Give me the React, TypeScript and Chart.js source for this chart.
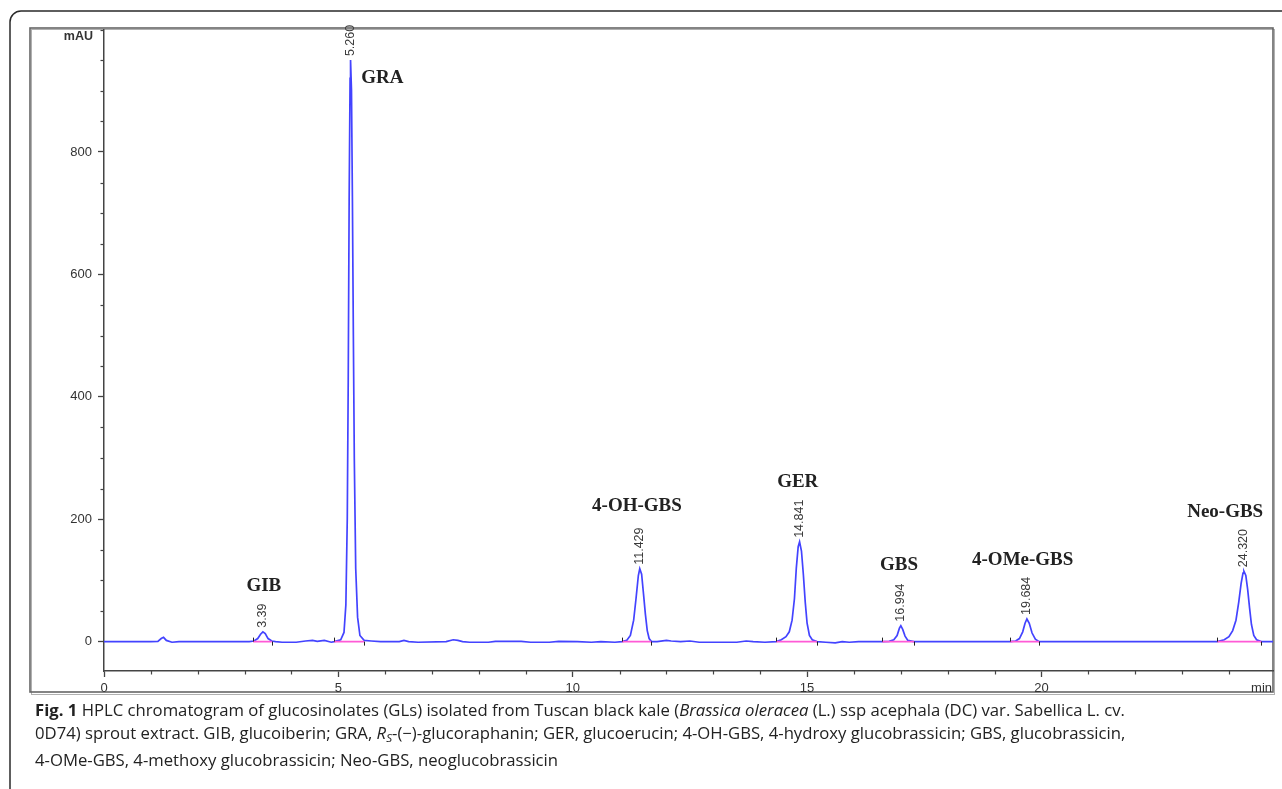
import React, { useEffect, useLayoutEffect, useRef } from 'react';
import { Chart, registerables } from 'chart.js';

Chart.register(...registerables);

// ---------- data ----------
const traceTime = [
  0.0, 0.5, 1.0, 1.15, 1.22, 1.27, 1.33, 1.45, 1.6, 2.2, 2.8, 3.1, 3.2, 3.28, 3.34, 3.39, 3.44, 3.5, 3.58, 3.66,
  3.8, 4.1, 4.3, 4.45, 4.55, 4.7, 4.85, 4.91, 5.05, 5.12, 5.16, 5.19, 5.21, 5.23, 5.25, 5.26, 5.28, 5.3, 5.32,
  5.34, 5.37, 5.41, 5.46, 5.55, 5.7, 5.9, 6.3, 6.4, 6.5, 6.7, 7.3, 7.45, 7.55, 7.65, 7.8, 8.2, 8.35, 8.9, 9.1,
  9.5, 9.7, 10.1, 10.4, 10.6, 10.9, 11.05, 11.15, 11.23, 11.3, 11.35, 11.4, 11.43, 11.47, 11.51, 11.55, 11.59,
  11.63, 11.68, 11.8, 12.0, 12.1, 12.3, 12.5, 12.7, 13.0, 13.5, 13.7, 13.85, 14.1, 14.34, 14.45, 14.55, 14.62,
  14.68, 14.73, 14.77, 14.81, 14.84, 14.88, 14.92, 14.96, 15.0, 15.05, 15.11, 15.21, 15.4, 15.6, 15.75, 15.9,
  16.1, 16.6, 16.75, 16.85, 16.92, 16.97, 17.0, 17.04, 17.09, 17.15, 17.28, 18.0, 19.0, 19.33, 19.45, 19.53,
  19.6, 19.65, 19.69, 19.74, 19.8, 19.87, 19.95, 21.0, 22.0, 23.0, 23.75, 23.9, 24.0, 24.08, 24.15, 24.21,
  24.26, 24.3, 24.32, 24.36, 24.4, 24.44, 24.48, 24.53, 24.59, 24.69, 24.94,
];
const traceMAU = [
  0, 0, 0, 0.5, 5, 7, 2, -1, 0, 0, 0, 0, 1, 5, 12, 16, 13, 5, 1, 0,
  -1, -1, 1, 2, 0.5, 2, -1, 0, 3, 15, 60, 200, 420, 720, 920, 950, 900, 720, 500,
  300, 120, 40, 10, 2, 1, 0, 0, 2, 0, -1, 0, 3, 2, 0, -1, -1, 0.5, 0.5, -1,
  -1, 0.5, 0, -1, 0, -1, 0, 2, 10, 35, 70, 108, 119, 110, 78, 45, 18,
  5, 0, 0, 2, 1, 0, 1, -1, -1, -1, 1, 0, -1, 0, 3, 8, 16,
  35, 70, 120, 155, 163, 148, 110, 65, 30, 10, 3, 0, -1, -2, 0, -1,
  0, 0, 0.5, 3, 10, 22, 26, 20, 9, 2, 0, 0, 0, 0, 1, 5,
  16, 30, 37, 30, 14, 4, 0, 0, 0, 0, 0, 3, 8, 18, 35, 65,
  95, 112, 115, 108, 85, 55, 28, 10, 3, 0, 0,
];

const peakNames = ['GIB', 'GRA', '4-OH-GBS', 'GER', 'GBS', '4-OMe-GBS', 'Neo-GBS'];
const peakRT = [3.39, 5.26, 11.429, 14.841, 16.994, 19.684, 24.32];
const peakRTLabels = ['3.39', '5.260', '11.429', '14.841', '16.994', '19.684', '24.320'];
const peakHeights = [16, 950, 119, 163, 26, 37, 115];
const nameTime = [3.41, 5.94, 11.37, 14.8, 16.96, 19.6, 23.92];
const nameMAU = [91, 921, 221, 261, 125, 133, 212];
const baselineStart = [3.18, 4.91, 11.05, 14.34, 16.6, 19.33, 23.75];
const baselineEnd = [3.58, 5.55, 11.67, 15.21, 17.28, 19.95, 24.69];

const xTickLabels = [0, 5, 10, 15, 20];
const yTickLabels = [0, 200, 400, 600, 800];
const xMin = 0;
const xMax = 24.94;
const yMin = -48;
const yMax = 1000;
const xUnit = 'min';
const yUnit = 'mAU';

const captionLines = [
  [
    { t: 'Fig. 1', b: true },
    { t: ' HPLC chromatogram of glucosinolates (GLs) isolated from Tuscan black kale (' },
    { t: 'Brassica oleracea', i: true },
    { t: ' (L.) ssp acephala (DC) var. Sabellica L. cv.' },
  ],
  [
    { t: '0D74) sprout extract. GIB, glucoiberin; GRA, ' },
    { t: 'R', i: true },
    { t: 'S', i: true, sub: true },
    { t: '-(\u2212)-glucoraphanin; GER, glucoerucin; 4-OH-GBS, 4-hydroxy glucobrassicin; GBS, glucobrassicin,' },
  ],
  [{ t: '4-OMe-GBS, 4-methoxy glucobrassicin; Neo-GBS, neoglucobrassicin' }],
];

const TRACE = '#4343ff';
const PINK = '#ff5ad6';
const AXIS = '#444';
const TICK_FONT = '"Liberation Sans", Arial, sans-serif';
const LABEL_COLOR = '#333';

const decorPlugin = {
  id: 'decor',
  beforeDraw(chart: any) {
    const c = chart.ctx;
    c.save();
    c.fillStyle = '#fff';
    c.fillRect(0, 0, chart.width, chart.height);
    // outer rounded figure box
    c.strokeStyle = '#2a2a2a';
    c.lineWidth = 1.5;
    c.beginPath();
    c.moveTo(10, chart.height + 5);
    c.lineTo(10, 22);
    c.arcTo(10, 11, 21, 11, 11);
    c.lineTo(chart.width + 5, 11);
    c.stroke();
    // inner chart frame
    c.strokeStyle = '#b0b0b0';
    c.lineWidth = 1;
    c.strokeRect(31.5, 29.5, 1243, 665);
    c.strokeStyle = '#666';
    c.lineWidth = 1.6;
    c.strokeRect(30, 28, 1243, 664);
    c.restore();
  },
  afterDraw(chart: any) {
    const c = chart.ctx;
    const xs = chart.scales.x;
    const ys = chart.scales.y;
    c.save();
    // minor ticks
    c.strokeStyle = AXIS;
    c.lineWidth = 1.2;
    xs.ticks.forEach((t: any) => {
      if (xTickLabels.includes(t.value)) return;
      const px = Math.round(xs.getPixelForValue(t.value)) + 0.5;
      c.beginPath();
      c.moveTo(px, ys.bottom);
      c.lineTo(px, ys.bottom + 3.5);
      c.stroke();
    });
    ys.ticks.forEach((t: any) => {
      if (yTickLabels.includes(t.value)) return;
      const py = Math.round(ys.getPixelForValue(t.value)) + 0.5;
      c.beginPath();
      c.moveTo(xs.left, py);
      c.lineTo(xs.left - 3.5, py);
      c.stroke();
    });
    // integration markers
    c.strokeStyle = '#222';
    c.lineWidth = 1;
    const y0 = ys.getPixelForValue(0);
    baselineStart.forEach((s, i) => {
      const a = Math.round(xs.getPixelForValue(s)) + 0.5;
      const b = Math.round(xs.getPixelForValue(baselineEnd[i])) + 0.5;
      c.beginPath();
      c.moveTo(a, y0 - 4);
      c.lineTo(a, y0);
      c.moveTo(b, y0);
      c.lineTo(b, y0 + 4);
      c.stroke();
    });
    // retention time labels (rotated)
    c.fillStyle = '#3a3a3a';
    c.font = `12.5px ${TICK_FONT}`;
    c.textAlign = 'left';
    c.textBaseline = 'middle';
    peakRT.forEach((rt, i) => {
      const px = xs.getPixelForValue(rt);
      const py = ys.getPixelForValue(peakHeights[i]) - 4;
      c.save();
      c.translate(px, py);
      c.rotate(-Math.PI / 2);
      c.fillText(peakRTLabels[i], 0, 0);
      c.restore();
    });
    // compound names
    c.fillStyle = '#222';
    c.font = 'bold 19px "Liberation Serif", "Times New Roman", serif';
    c.textAlign = 'center';
    c.textBaseline = 'middle';
    peakNames.forEach((n, i) => {
      c.fillText(n, xs.getPixelForValue(nameTime[i]), ys.getPixelForValue(nameMAU[i]));
    });
    // units
    c.fillStyle = LABEL_COLOR;
    c.font = `bold 12.5px ${TICK_FONT}`;
    c.textAlign = 'right';
    c.fillText(yUnit, xs.left - 11, ys.top + 7);
    c.font = `13px ${TICK_FONT}`;
    c.textBaseline = 'middle';
    c.fillText(xUnit, xs.right - 1, ys.bottom + 17);
    c.restore();
  },
};

export default function App() {
  const canvasRef = useRef<HTMLCanvasElement>(null);
  const capRef = useRef<HTMLDivElement>(null);

  useLayoutEffect(() => {
    const el = capRef.current;
    if (!el) return;
    const first = el.children[0] as HTMLElement;
    const w = first.getBoundingClientRect().width;
    if (w > 0) {
      const s = 1090 / w;
      el.style.transform = `scaleX(${s})`;
    }
  }, []);

  useEffect(() => {
    const canvas = canvasRef.current!;
    const datasets: any[] = baselineStart.map((s, i) => ({
      data: [
        { x: s, y: 0 },
        { x: baselineEnd[i], y: 0 },
      ],
      borderColor: PINK,
      borderWidth: 1.6,
      pointRadius: 0,
    }));
    datasets.push({
      data: traceTime.map((t, i) => ({ x: t, y: traceMAU[i] })),
      borderColor: TRACE,
      borderWidth: 1.7,
      pointRadius: 0,
      tension: 0,
    });
    const majorColor = (labels: number[]) => (ctx: any) =>
      ctx.tick && labels.includes(ctx.tick.value) ? AXIS : 'rgba(0,0,0,0)';
    const chart = new Chart(canvas, {
      type: 'line',
      data: { datasets },
      options: {
        responsive: false,
        animation: false,
        devicePixelRatio: 1,
        layout: { padding: { left: 30, top: 29.5, right: 9, bottom: 96 } },
        plugins: { legend: { display: false }, tooltip: { enabled: false } },
        scales: {
          x: {
            type: 'linear',
            min: xMin,
            max: xMax,
            border: { color: AXIS, width: 1.5 },
            grid: { drawOnChartArea: false, tickLength: 6, tickWidth: 1.3, tickColor: majorColor(xTickLabels) },
            ticks: {
              stepSize: 1,
              autoSkip: false,
              maxRotation: 0,
              padding: 4,
              color: LABEL_COLOR,
              font: { family: TICK_FONT, size: 13 },
              callback: (v: any) => (xTickLabels.includes(v) ? String(v) : ''),
            },
            afterBuildTicks: (s: any) => {
              const t = [];
              for (let v = 0; v <= 24; v++) t.push({ value: v });
              s.ticks = t;
            },
            afterFit: (s: any) => {
              s.height = 22;
            },
          },
          y: {
            type: 'linear',
            min: yMin,
            max: yMax,
            border: { color: AXIS, width: 1.5 },
            grid: { drawOnChartArea: false, tickLength: 6, tickWidth: 1.3, tickColor: majorColor(yTickLabels) },
            ticks: {
              stepSize: 50,
              autoSkip: false,
              padding: 6,
              color: LABEL_COLOR,
              font: { family: TICK_FONT, size: 13 },
              callback: (v: any) => (yTickLabels.includes(v) ? String(v) : ''),
            },
            afterBuildTicks: (s: any) => {
              const t = [];
              for (let v = 0; v <= 1000; v += 50) t.push({ value: v });
              s.ticks = t;
            },
            afterFit: (s: any) => {
              s.width = 74;
            },
          },
        },
      },
      plugins: [decorPlugin],
    } as any);
    return () => chart.destroy();
  }, []);

  return (
    <div style={{ position: 'absolute', left: 0, top: 0, width: 1282, height: 789, overflow: 'hidden', background: '#fff' }}>
      <canvas ref={canvasRef} width={1282} height={789} style={{ position: 'absolute', left: 0, top: 0, width: 1282, height: 789 }} />
      <div
        ref={capRef}
        style={{
          position: 'absolute',
          left: 35,
          top: 699,
          transformOrigin: '0 0',
          fontFamily: '"Open Sans", "Noto Sans", sans-serif',
          fontSize: 16,
          lineHeight: '23px',
          color: '#222',
          whiteSpace: 'nowrap',
        }}
      >
        {captionLines.map((line, li) => (
          <div key={li} style={{ display: 'table', whiteSpace: 'nowrap' }}>
            {line.map((seg: any, si) => {
              const st: any = {};
              if (seg.b) st.fontWeight = 'bold';
              if (seg.i) st.fontStyle = 'italic';
              if (seg.sub) {
                st.fontSize = '0.7em';
                st.verticalAlign = '-0.25em';
              }
              return (
                <span key={si} style={st}>
                  {seg.t}
                </span>
              );
            })}
          </div>
        ))}
      </div>
    </div>
  );
}
